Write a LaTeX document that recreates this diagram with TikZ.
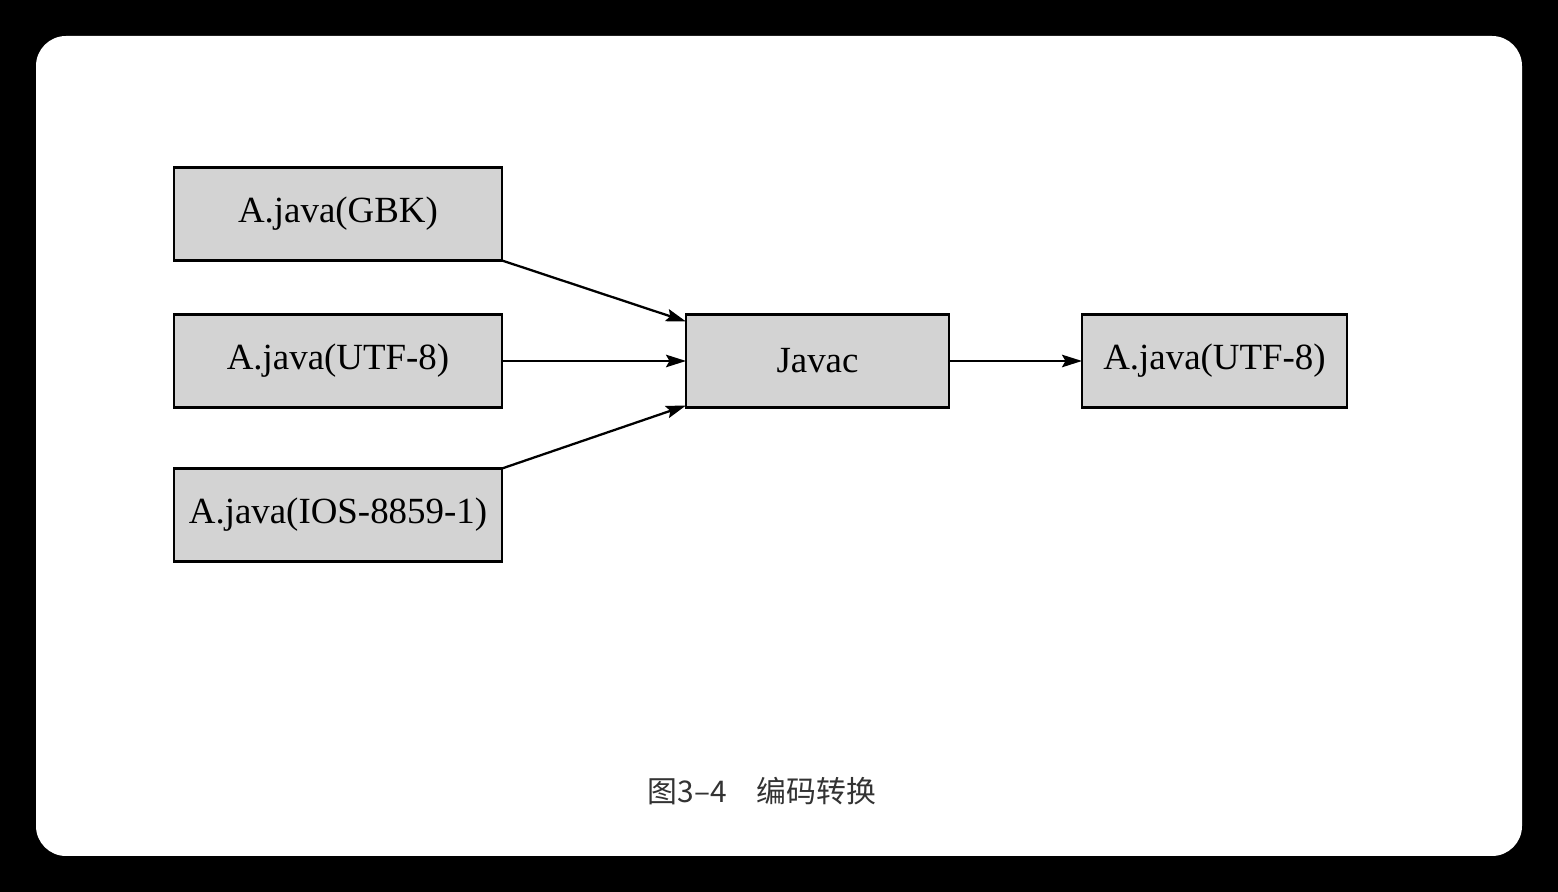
\documentclass[tikz,border=0pt]{standalone}
\usepackage{fontspec}
\setmainfont{Liberation Serif}
\newfontfamily\cjk{Noto Sans CJK SC}
\usetikzlibrary{arrows.meta, positioning}
\definecolor{boxgray}{HTML}{D3D3D3}
\definecolor{capgray}{HTML}{333333}

\begin{document}
\begin{tikzpicture}[
    srcbox/.style={draw, line width=0.65pt, fill=boxgray, outer sep=0pt,
                   minimum width=#1, minimum height=0.93cm,
                   font=\fontsize{10.5pt}{12pt}\selectfont},
    srcbox/.default=3.28cm,
    flow/.style={-{Stealth[length=2mm, width=1.25mm, inset=0.35mm]}, line width=0.65pt},
]
    % Background and card
    \fill[black] (0,0) rectangle (15.58,8.92);
    \fill[white, rounded corners=0.3cm] (0.36,0.36) rectangle (15.22,8.56);
    \useasboundingbox (0,0) rectangle (15.58,8.92);

    % Source files
    \node[srcbox] (gbk) at (3.38, 6.78) {A.java(GBK)};
    \node[srcbox] (utf) at (3.38, 5.31) {A.java(UTF-8)};
    \node[srcbox] (ios) at (3.38, 3.77) {A.java(IOS-8859-1)};

    % Compiler and output
    \node[srcbox=2.63cm] (javac) at (8.175, 5.31) {Javac};
    \node[srcbox=2.65cm] (out) at (12.145, 5.31) {A.java(UTF-8)};

    % Transitions
    \draw[flow] (gbk.south east) -- ([yshift=-0.7mm]javac.north west);
    \draw[flow] (utf) -- (javac);
    \draw[flow] (ios.north east) -- ([yshift=0.2mm]javac.south west);
    \draw[flow] (javac) -- (out);

    % Caption
    \node[font=\cjk\fontsize{8.5pt}{10pt}\selectfont, text=capgray] (caption) at (7.62, 1.01) {图3–4\quad 编码转换};
\end{tikzpicture}
\end{document}
